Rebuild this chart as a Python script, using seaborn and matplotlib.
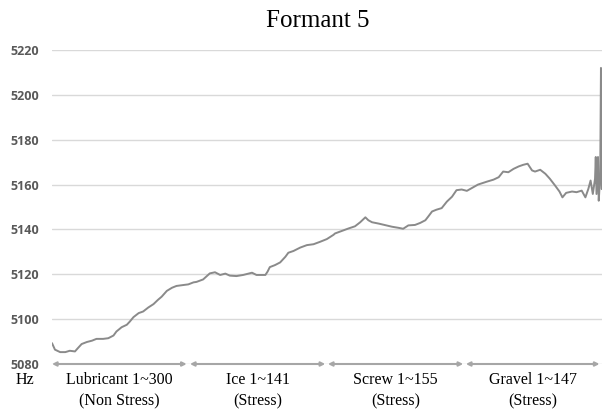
import matplotlib
matplotlib.use("Agg")
import matplotlib.pyplot as plt
import seaborn as sns
import pandas as pd

# ---- data ----
sample_idx = [
    1, 5, 12, 19, 25, 32, 36, 41, 48, 55, 61, 70, 77, 84, 88, 95, 102, 106, 111,
    118, 124, 131, 138, 144, 149, 156, 163, 169, 178, 185, 192,
    196, 205, 210, 214, 221, 228, 235, 241, 250, 259, 271, 277, 289, 292, 295,
    302, 309, 316, 320, 327, 336, 345, 354, 363, 372, 381,
    383, 392, 401, 410, 417, 424, 428, 433, 442, 451, 460, 469, 475, 482, 491,
    498, 505, 509, 514, 520, 527, 534, 541, 547, 554, 561, 568, 576,
    588, 597, 604, 610, 617, 624, 631, 637, 643, 649, 653, 660, 667, 673, 680,
    686, 690, 695, 703, 709, 716, 721, 725, 728, 731, 734, 735, 736, 738, 739,
    741, 742, 743,
]
formant_hz = [
    5089.3, 5086.4, 5085.3, 5085.3, 5085.9, 5085.6, 5087.1, 5088.9, 5089.8,
    5090.4, 5091.2, 5091.2, 5091.5, 5092.7, 5094.5, 5096.4, 5097.5, 5098.9,
    5100.9, 5102.7, 5103.4, 5105.2, 5106.7, 5108.6, 5110.0, 5112.6, 5114.0,
    5114.8, 5115.2, 5115.5, 5116.4,
    5116.6, 5117.7, 5119.2, 5120.4, 5120.9, 5119.7, 5120.3, 5119.4, 5119.2,
    5119.7, 5120.7, 5119.7, 5119.7, 5121.2, 5123.2, 5124.1, 5125.3, 5127.8,
    5129.6, 5130.4, 5131.9, 5133.0, 5133.4, 5134.5, 5135.7, 5137.6,
    5138.2, 5139.3, 5140.4, 5141.4, 5143.2, 5145.4, 5144.1, 5143.2, 5142.6,
    5141.9, 5141.2, 5140.7, 5140.3, 5141.8, 5142.0, 5142.9, 5144.1, 5145.8,
    5148.0, 5148.8, 5149.5, 5152.4, 5154.6, 5157.5, 5157.8, 5157.2, 5158.5,
    5160.0,
    5161.3, 5162.2, 5163.3, 5165.8, 5165.5, 5167.0, 5168.1, 5168.8, 5169.3,
    5166.3, 5165.8, 5166.6, 5164.8, 5162.6, 5159.6, 5156.9, 5154.3, 5156.3,
    5156.9, 5156.6, 5157.3, 5154.3, 5158.1, 5161.8, 5155.8, 5162.6, 5172.3,
    5155.8, 5172.3, 5152.8, 5164.0, 5212.0, 5158.0,
]
y_ticks = [5080, 5100, 5120, 5140, 5160, 5180, 5200, 5220]
segment_names = ["Lubricant 1~300", "Ice 1~141", "Screw 1~155", "Gravel 1~147"]
segment_conditions = ["(Non Stress)", "(Stress)", "(Stress)", "(Stress)"]
title_text = "Formant 5"
unit_text = "Hz"

df = pd.DataFrame({"sample": sample_idx, "hz": formant_hz})

sns.set_style("white")
W, H = 607, 411
fig = plt.figure(figsize=(W / 100, H / 100), dpi=100)
ax = fig.add_axes([52 / W, 1 - 364 / H, 549.7 / W, (364 - 50) / H])

sns.lineplot(data=df, x="sample", y="hz", ax=ax, color="#8a8a8a",
             linewidth=1.4, estimator=None, sort=False)

ax.set_ylim(5080, 5220)
ax.set_xlim(1, 743)
ax.set_yticks(y_ticks)
ax.set_yticklabels([str(t) for t in y_ticks], fontfamily="Open Sans",
                   fontweight="bold", fontsize=9, color="#595959")
ax.yaxis.grid(True, color="#d9d9d9", linewidth=1.0)
ax.xaxis.grid(False)
ax.set_axisbelow(True)
for s in ax.spines.values():
    s.set_visible(False)

ax.set_xticks([])
ax.set_xlabel("")
ax.set_ylabel("")
ax.tick_params(axis="y", length=0, pad=9)

# segment arrows along the bottom
bounds = [(0.0, 0.245), (0.251, 0.497), (0.502, 0.748), (0.753, 0.996)]
serif = ["Liberation Serif", "DejaVu Serif"]
for (x0, x1), name, cond in zip(bounds, segment_names, segment_conditions):
    ax.annotate("", xy=(x1, 0), xytext=(x0, 0), xycoords="axes fraction",
                textcoords="axes fraction",
                arrowprops=dict(arrowstyle="<|-|>", color="#a6a6a6", lw=1.5,
                                mutation_scale=6, shrinkA=0, shrinkB=0),
                annotation_clip=False)
    xc = (x0 + x1) / 2
    fig.text(52 / W + xc * 549.7 / W, 1 - 380 / H, name, ha="center",
             va="center", fontsize=11.5, family=serif, color="black")
    fig.text(52 / W + xc * 549.7 / W, 1 - 401 / H, cond, ha="center",
             va="center", fontsize=11.5, family=serif, color="black")

fig.text(25 / W, 1 - 380 / H, unit_text, ha="center", va="center",
         fontsize=11.5, family=serif, color="black")
fig.text(318 / W, 1 - 21 / H, title_text, ha="center", va="center",
         fontsize=18, family=serif, color="black")

fig.savefig("out.png", dpi=100)
